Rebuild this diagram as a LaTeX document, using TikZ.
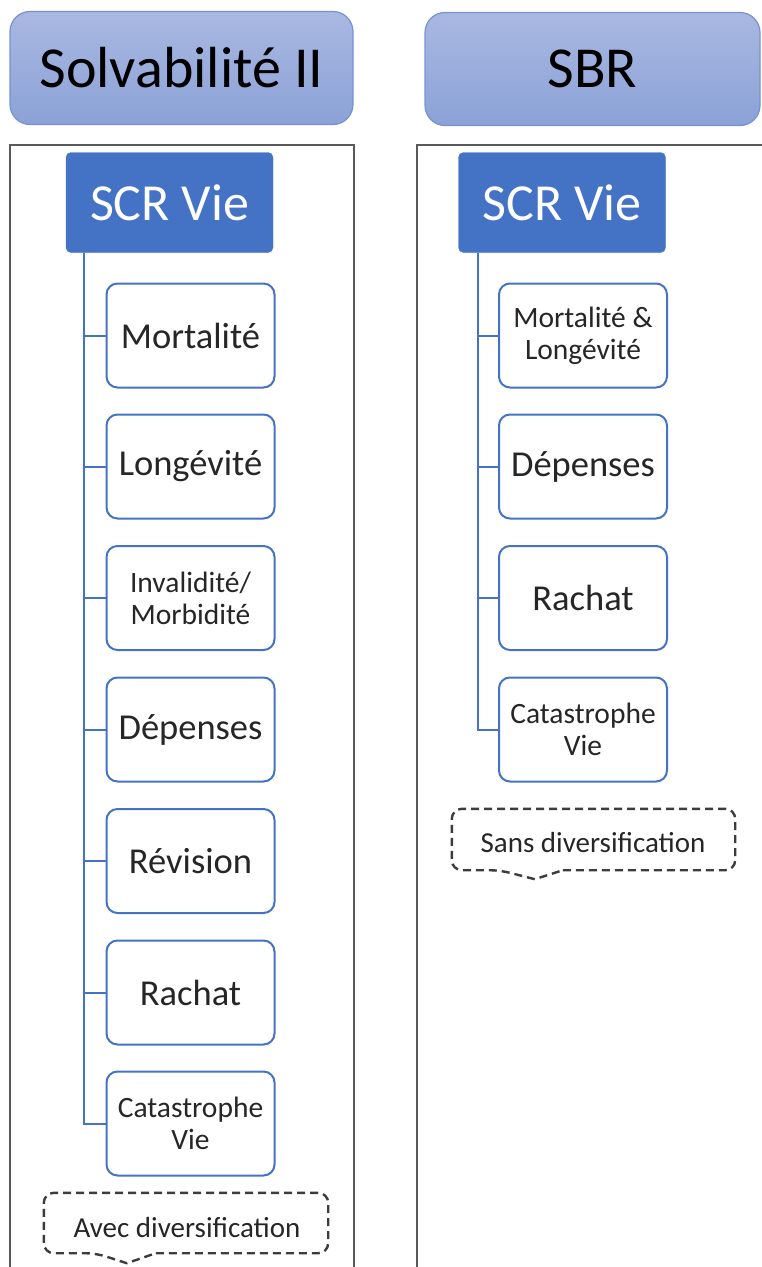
\documentclass[tikz,border=0pt]{standalone}
\usepackage{fontspec}
\setmainfont{Carlito}
\usetikzlibrary{calc}
\definecolor{accent}{HTML}{4472C4}
\definecolor{headtop}{HTML}{A9B8E1}
\definecolor{headbot}{HTML}{8BA2D7}
\definecolor{headline}{HTML}{7593D2}
\definecolor{txt}{HTML}{262626}
\definecolor{framegray}{HTML}{5A5A5A}
\tikzset{
  header/.style={rectangle, rounded corners=20pt, draw=headline, line width=1.2pt,
    top color=headtop, bottom color=headbot, inner sep=0pt,
    minimum width=#1, minimum height=113pt, text=black,
    font=\fontsize{58}{62}\selectfont},
  rootbox/.style={rectangle, rounded corners=5pt, fill=accent, draw=accent, text=white,
    inner sep=0pt, minimum width=207pt, minimum height=100pt,
    font=\fontsize{52}{56}\selectfont},
  childbox/.style={rectangle, rounded corners=11pt, draw=accent, fill=white, line width=2pt,
    inner sep=0pt, minimum width=168pt, minimum height=104pt, text=txt, align=center,
    font=\fontsize{36.5}{40}\selectfont},
  childtwo/.style={childbox, font=\fontsize{29.5}{32}\selectfont},
  link/.style={draw=accent, line width=2pt},
  frame/.style={draw=framegray, line width=1.4pt},
  calloutbox/.style={rectangle, inner sep=0pt, minimum width=284pt, minimum height=60pt,
    text=txt, font=\fontsize{29}{32}\selectfont},
  calloutline/.style={draw=txt!90, line width=2.4pt, dash pattern=on 8pt off 5pt}
}
\begin{document}
\begin{tikzpicture}[x=1pt, y=-1pt]
\useasboundingbox (0,0) rectangle (761,1267);

% ---- headers ----
\node[header=343pt] (hsol) at (181.5,68) {Solvabilité II};
\node[header=335pt] (hsbr) at (592.5,69) {SBR};

% ---- frames ----
\draw[frame] (10,1270) -- (10,145) -- (354,145) -- (354,1270);
\draw[frame] (417,1270) -- (417,145) -- (765,145);

% ---- left tree ----
\node[rootbox] (rootL) at (169.5,202.5) {SCR Vie};
\coordinate (spineL) at (84,252.5);
\node[childbox] (l1) at (190.5,335.5) {Mortalité};
\node[childbox] (l2) at (190.5,466.5) {Longévité};
\node[childtwo] (l3) at (190.5,598) {Invalidité/\\Morbidité};
\node[childbox] (l4) at (190.5,729.5) {Dépenses};
\node[childbox] (l5) at (190.5,861) {Révision};
\node[childbox] (l6) at (190.5,992.5) {Rachat};
\node[childtwo] (l7) at (190.5,1123.5) {Catastrophe\\Vie};
\draw[link] (spineL) |- (l7.west);
\foreach \n in {l1,l2,l3,l4,l5,l6}
  \draw[link] (spineL |- \n.west) -- (\n.west);

% ---- right tree ----
\node[rootbox] (rootR) at (562,202.5) {SCR Vie};
\coordinate (spineR) at (478,252.5);
\node[childtwo] (r1) at (583,335.5) {Mortalité \&\\Longévité};
\node[childbox] (r2) at (583,466.5) {Dépenses};
\node[childbox] (r3) at (583,598) {Rachat};
\node[childtwo] (r4) at (583,729.5) {Catastrophe\\Vie};
\draw[link] (spineR) |- (r4.west);
\foreach \n in {r1,r2,r3}
  \draw[link] (spineR |- \n.west) -- (\n.west);

% ---- callouts ----
\node[calloutbox] (cL) at (186,1223) {};
\node[text=txt, font=\fontsize{29}{32}\selectfont, inner sep=0pt] (tL) at (187,1228) {Avec diversification};
\draw[calloutline] ($(cL.south west)+(112,0)$) [rounded corners=10pt] -- (cL.south east)
  -- (cL.north east) -- (cL.north west) -- (cL.south west) -- ($(cL.south west)+(52,0)$)
  [sharp corners] -- ($(cL.south west)+(83,10)$) -- cycle;

\node[calloutbox, minimum width=283pt, minimum height=61pt] (cR) at (593.5,839.5) {};
\node[text=txt, font=\fontsize{29}{32}\selectfont, inner sep=0pt] (tR) at (593,843) {Sans diversification};
\draw[calloutline] ($(cR.south west)+(111,0)$) [rounded corners=10pt] -- (cR.south east)
  -- (cR.north east) -- (cR.north west) -- (cR.south west) -- ($(cR.south west)+(48,0)$)
  [sharp corners] -- ($(cR.south west)+(83,9)$) -- cycle;
\end{tikzpicture}
\end{document}
